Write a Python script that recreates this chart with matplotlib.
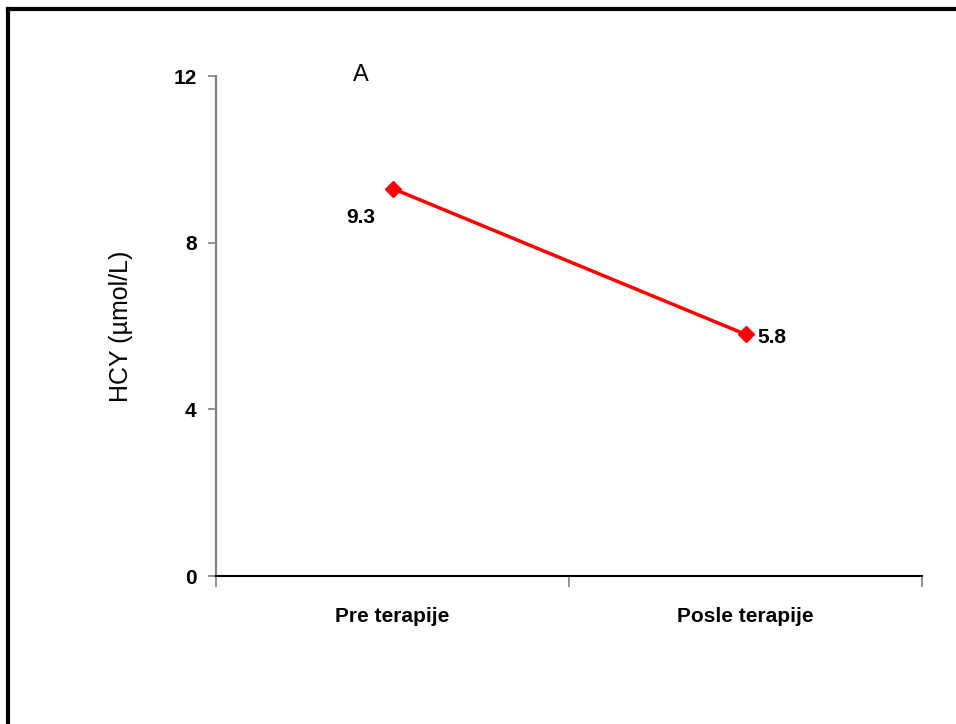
import matplotlib.pyplot as plt
from matplotlib.lines import Line2D

categories = ['Pre terapije', 'Posle terapije']
hcy = [9.3, 5.8]
yticks = [0, 4, 8, 12]

plt.rcParams['font.family'] = ['Liberation Sans', 'DejaVu Sans']

fig = plt.figure(figsize=(9.56, 7.24), dpi=100)
ax = fig.add_axes([216/956, 1-576/724, (922-216)/956, (576-76)/724])

x = [i + 0.5 for i in range(len(categories))]
ax.plot(x, hcy, color='#ff0000', lw=2.5, marker='D', ms=8, mec='#ff0000', mfc='#ff0000')

# data labels
ax.annotate(f'{hcy[0]}', (x[0], hcy[0]), xytext=(-23, -21), textcoords='offset points',
            ha='center', va='center', fontsize=15, fontweight='bold')
ax.annotate(f'{hcy[1]}', (x[1], hcy[1]), xytext=(19, -2), textcoords='offset points',
            ha='center', va='center', fontsize=15, fontweight='bold')

ax.set_xlim(0, 2)
ax.set_ylim(0, 12)
ax.set_yticks(yticks)
ax.set_yticklabels([str(v) for v in yticks], fontsize=15, fontweight='bold')
ax.set_xticks(x)
ax.set_xticklabels(categories, fontsize=15, fontweight='bold')
ax.set_xticks([0, 1, 2], minor=True)
ax.tick_params(axis='x', which='major', length=0, pad=22)
ax.tick_params(axis='x', which='minor', length=8, width=1.2, color='#808080', direction='out')
ax.tick_params(axis='y', length=6, width=1.2, color='#808080', direction='out', pad=8)

ax.spines['top'].set_visible(False)
ax.spines['right'].set_visible(False)
ax.spines['left'].set_color('#808080')
ax.spines['left'].set_linewidth(1.5)
ax.spines['bottom'].set_color('black')
ax.spines['bottom'].set_linewidth(1.5)

ax.set_ylabel('HCY (µmol/L)', fontsize=18)
ax.yaxis.set_label_coords(-83/706, 0.5)

fig.text(361/956, 1-75/724, 'A', fontsize=17, ha='center', va='center')

# frame around the figure (left and top edges visible)
fig.add_artist(Line2D([8/956, 8/956], [0, 1-9/724], transform=fig.transFigure, color='black', lw=3))
fig.add_artist(Line2D([8/956, 1], [1-9/724, 1-9/724], transform=fig.transFigure, color='black', lw=3))

fig.savefig('out.png', dpi=100)
